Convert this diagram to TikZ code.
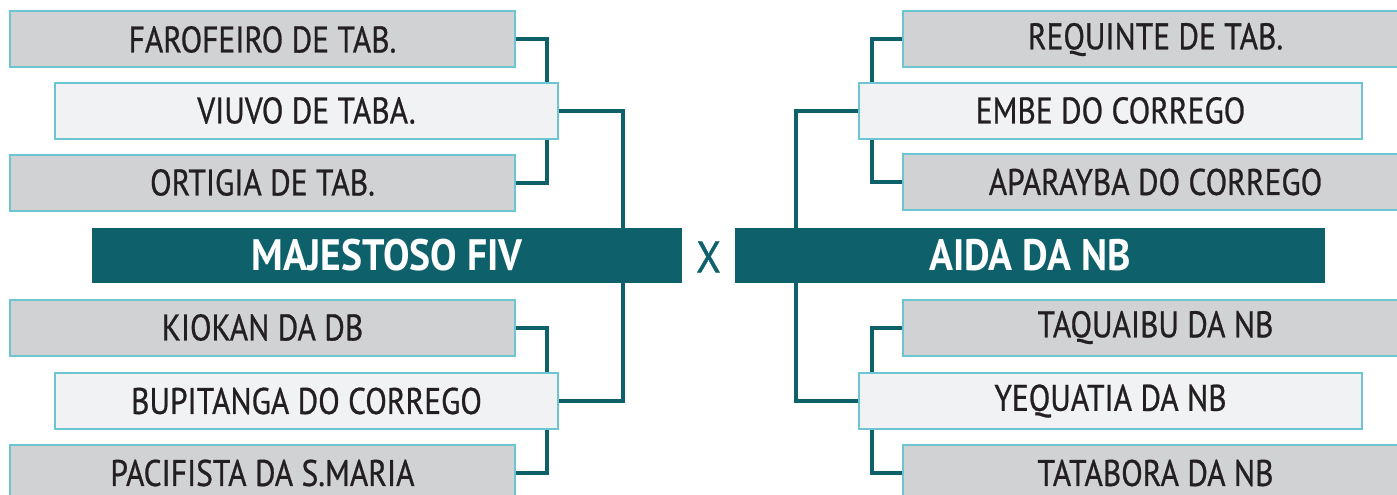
\documentclass[tikz,border=0pt]{standalone}
\usepackage{fontspec}
\setmainfont[FakeStretch=0.85,FakeBold=0.7]{PT Sans}
\newfontfamily\barfont[FakeStretch=0.9]{PT Sans}
\newfontfamily\xfont[FakeStretch=0.9,FakeBold=1]{PT Sans}
\usetikzlibrary{backgrounds}
\definecolor{tealc}{HTML}{0E616B}
\definecolor{cyanb}{HTML}{6CC5D1}
\definecolor{grayb}{HTML}{D1D2D4}
\definecolor{lightb}{HTML}{F0F2F4}
\definecolor{txt}{HTML}{231F20}
\tikzset{
  gbox/.style={draw=cyanb, line width=2pt, fill=grayb, minimum width=505pt, minimum height=56pt, inner sep=0pt, text=txt, font=\fontsize{37}{37}\selectfont},
  lbox/.style={gbox, fill=lightb, minimum width=503pt},
  bar/.style={fill=tealc, minimum width=590pt, minimum height=55pt, inner sep=0pt, text=white, font=\barfont\fontsize{44}{44}\selectfont\bfseries},
  conn/.style={draw=tealc, line width=4pt},
}
\begin{document}
\begin{tikzpicture}[x=1pt,y=1pt]
\useasboundingbox (0,0) rectangle (1397,-495);
% left side
\node[gbox] (f) at (262.5,-39.5) {FAROFEIRO DE TAB.};
\node[lbox] (v) at (306.5,-110.5) {VIUVO DE TABA.};
\node[gbox] (o) at (262.5,-182.5) {ORTIGIA DE TAB.};
\node[bar] (m) at (387,-255.5) {MAJESTOSO FIV};
\node[gbox] (k) at (262.5,-327.5) {KIOKAN DA DB};
\node[lbox] (b) at (306.5,-401) {BUPITANGA DO CORREGO};
\node[gbox] (p) at (262.5,-473) {PACIFISTA DA S.MARIA};
% middle
\node[text=tealc, font=\xfont\fontsize{44}{44}\selectfont, inner sep=0pt] (x) at (708.5,-257) {X};
% right side
\node[gbox] (r) at (1155.5,-39.5) {REQUINTE DE TAB.};
\node[lbox] (e) at (1110.5,-110.5) {EMBE DO CORREGO};
\node[gbox] (a) at (1155.5,-182) {APARAYBA DO CORREGO};
\node[bar] (d) at (1030,-255.5) {AIDA DA NB};
\node[gbox] (t) at (1155.5,-327.5) {TAQUAIBU DA NB};
\node[lbox] (y) at (1110.5,-401) {YEQUATIA DA NB};
\node[gbox] (tb) at (1155.5,-473) {TATABORA DA NB};
\begin{pgfonlayer}{background}
\draw[conn] (f.east) -- ++(31,0) |- (o.east);
\draw[conn] (k.east) -- ++(31,0) |- (p.east);
\draw[conn] (v.east) -- ++(64,0) coordinate (vm) -- (vm |- m.north);
\draw[conn] (b.east) -- ++(64,0) coordinate (bm) -- (bm |- m.south);
\draw[conn] (r.west) -- ++(-30,0) |- (a.west);
\draw[conn] (t.west) -- ++(-30,0) |- (tb.west);
\draw[conn] (e.west) -- ++(-62,0) coordinate (ed) -- (ed |- d.north);
\draw[conn] (y.west) -- ++(-62,0) coordinate (yd) -- (yd |- d.south);
\end{pgfonlayer}
\end{tikzpicture}
\end{document}
